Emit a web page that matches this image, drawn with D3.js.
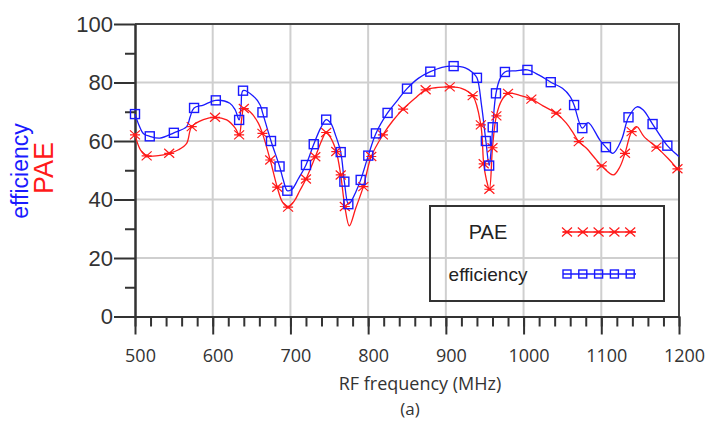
<!DOCTYPE html>
<html>
<head>
<meta charset="utf-8">
<script src="https://cdn.jsdelivr.net/npm/d3@7"></script>
<style>
  body { margin: 0; background: #fff; }
  svg { display: block; }
</style>
</head>
<body>
<div id="chart"></div>
<script>
// curve points (MHz, %)
const effFreq = [500, 505, 511, 519, 532, 550, 566.5, 571, 576, 588, 604, 622, 629, 634, 636.5, 639, 652, 661, 664,
  675, 686, 691, 696, 702, 710, 720, 730, 739, 746, 752, 758, 764.7, 769.4, 774.5, 778, 784, 790.4, 800.2, 810, 825,
  838, 850, 865, 880, 895, 910, 925, 934, 940, 946, 951.5, 955.7, 958, 960.3, 964.5, 970, 976, 990, 1005, 1020, 1035,
  1050, 1060, 1065, 1075.6, 1083, 1098, 1106, 1115, 1126, 1135, 1146, 1154, 1166, 1185, 1200];
const effVal = [69.2, 65.5, 62.5, 61.6, 61.0, 62.8, 64.9, 68.3, 71.3, 72.3, 73.9, 72.9, 70.6, 67.2, 72, 77.2, 75.4, 72.3, 69.8,
  60.0, 51.3, 46.5, 43.0, 43.5, 47, 51.8, 58.9, 64.5, 67.3, 66, 62, 56.2, 46.1, 38.4, 39.3, 42.5, 46.7, 55.0, 62.6, 69.6,
  74, 77.9, 81.5, 83.7, 85.2, 85.6, 85, 83.5, 81.6, 72, 60.0, 51.6, 56, 64.7, 76.3, 81.5, 83.6, 84, 84.3, 82.5, 80.1,
  78, 75.2, 72.3, 64.4, 66.3, 60.4, 57.9, 55.8, 60.4, 68.1, 71.7, 70.6, 65.8, 58.4, 54.7];
const effMarkIdx = [0, 3, 5, 8, 10, 13, 15, 18, 19, 20, 22, 25, 26, 28, 31, 32, 33, 36, 37, 38, 39, 41, 43, 45, 48,
  50, 51, 53, 54, 56, 58, 60, 63, 64, 67, 70, 73, 74];

const paeFreq = [500, 507, 515, 530, 544, 556, 566.5, 573, 588, 603, 618, 629, 634, 637.5, 640, 648, 658.7, 664,
  674, 683, 690, 697, 705, 712, 720, 732, 740, 746, 752, 759, 764.7, 770, 775.8, 784, 793.8, 804, 819, 832, 845, 860,
  874, 890, 905, 920, 934.5, 945, 948.7, 952, 956, 960, 965, 972, 980, 995, 1010, 1025, 1042, 1055, 1064, 1071, 1081,
  1090, 1100.5, 1115.5, 1124, 1130.5, 1139, 1145.6, 1155, 1171, 1186, 1198, 1200];
const paeVal = [62.1, 57, 54.9, 55, 55.8, 57, 59.2, 64.9, 67.3, 68.1, 67.2, 64.4, 62.1, 68, 71.1, 70, 66.1, 62.6,
  53.5, 44.2, 39, 37.4, 39.5, 43, 47.0, 54.6, 60, 62.9, 61, 56.4, 48.4, 37.6, 31.0, 37, 44.4, 54.7, 62.1, 67, 70.9, 74.5,
  77.5, 78.3, 78.5, 78, 75.5, 65.5, 52.2, 47, 43.5, 57.7, 68.6, 74, 76.3, 75.6, 74.3, 72, 69.5, 66.1, 62.7, 59.8, 57.5,
  54.7, 51.5, 48.4, 51.2, 55.8, 63.2, 64.9, 61.5, 57.9, 54, 50.5, 50];
const paeMarkIdx = [0, 2, 4, 7, 9, 12, 14, 17, 18, 19, 21, 24, 25, 27, 29, 30, 31, 34, 35, 36, 38, 40, 42, 44, 45,
  46, 48, 49, 50, 52, 54, 56, 59, 62, 65, 66, 69, 71];

const xTicks = [500, 600, 700, 800, 900, 1000, 1100, 1200];
const yTicks = [0, 20, 40, 60, 80, 100];
const seriesNames = ["PAE", "efficiency"];

const width = 725, height = 421;
const mLeft = 135, mRight = 679, mTop = 24, mBottom = 316.5;
const blue = "#1a1aff", red = "#ff1a1a", dark = "#333";

const svg = d3.select("#chart").append("svg")
  .attr("width", width)
  .attr("height", height);

const x = d3.scaleLinear().domain([500, 1200]).range([mLeft, mRight]);
const y = d3.scaleLinear().domain([0, 100]).range([mBottom, mTop]);

// grid
svg.append("g").selectAll("line")
  .data(xTicks.slice(1, -1))
  .enter().append("line")
  .attr("x1", d => x(d)).attr("x2", d => x(d))
  .attr("y1", mTop).attr("y2", mBottom)
  .attr("stroke", "#cfcfcf").attr("stroke-width", 2);
svg.append("g").selectAll("line")
  .data(yTicks.slice(1, -1))
  .enter().append("line")
  .attr("x1", mLeft).attr("x2", mRight)
  .attr("y1", d => y(d)).attr("y2", d => y(d))
  .attr("stroke", "#cfcfcf").attr("stroke-width", 2);

// frame top + right
svg.append("path")
  .attr("d", `M${mLeft},${mTop}H${mRight}V${mBottom}`)
  .attr("fill", "none").attr("stroke", "#444").attr("stroke-width", 2);

// x axis: minor then major
const xMinor = d3.range(500, 1201, 20);
svg.append("g")
  .attr("transform", `translate(0,${mBottom})`)
  .call(d3.axisBottom(x).tickValues(xMinor).tickSize(10).tickSizeOuter(0).tickFormat(""))
  .call(g => g.selectAll("line,path").attr("stroke", dark).attr("stroke-width", 2));
const xAxis = svg.append("g")
  .attr("transform", `translate(0,${mBottom})`)
  .call(d3.axisBottom(x).tickValues(xTicks).tickSize(18).tickSizeOuter(0).tickFormat(d3.format("d")))
  .call(g => g.selectAll("line,path").attr("stroke", dark).attr("stroke-width", 2));
xAxis.selectAll("text")
  .attr("y", 39).attr("dy", "0.36em").attr("dx", 5)
  .attr("fill", dark)
  .style("font-family", "'Open Sans', sans-serif")
  .style("font-size", "18px");

// y axis
const yMinor = d3.range(10, 100, 20);
svg.append("g")
  .attr("transform", `translate(${mLeft},0)`)
  .call(d3.axisLeft(y).tickValues(yMinor).tickSize(10).tickSizeOuter(0).tickFormat(""))
  .call(g => g.selectAll("line,path").attr("stroke", dark).attr("stroke-width", 2));
const yAxis = svg.append("g")
  .attr("transform", `translate(${mLeft},0)`)
  .call(d3.axisLeft(y).tickValues(yTicks).tickSize(21).tickSizeOuter(0).tickPadding(1))
  .call(g => g.selectAll("line,path").attr("stroke", dark).attr("stroke-width", 2));
yAxis.selectAll("text")
  .attr("fill", dark)
  .style("font-family", "'Liberation Sans', Arial, sans-serif")
  .style("font-size", "22px");

// axis titles
svg.append("text")
  .attr("transform", "translate(28,171) rotate(-90)")
  .attr("text-anchor", "middle")
  .attr("fill", blue)
  .style("font-family", "'Liberation Sans', Arial, sans-serif")
  .style("font-size", "23px")
  .text("efficiency");
svg.append("text")
  .attr("transform", "translate(53,168) rotate(-90)")
  .attr("text-anchor", "middle")
  .attr("fill", red)
  .style("font-family", "'Liberation Sans', Arial, sans-serif")
  .style("font-size", "27px")
  .text("PAE");
svg.append("text")
  .attr("x", 420).attr("y", 384).attr("dy", "0.35em")
  .attr("text-anchor", "middle").attr("fill", dark)
  .style("font-family", "'Open Sans', sans-serif")
  .style("font-size", "18px")
  .text("RF frequency (MHz)");
svg.append("text")
  .attr("x", 410).attr("y", 409).attr("dy", "0.35em")
  .attr("text-anchor", "middle").attr("fill", dark)
  .style("font-family", "'Open Sans', sans-serif")
  .style("font-size", "17px")
  .text("(a)");

// lines
const line = d3.line()
  .x(d => x(d[0]))
  .y(d => y(d[1]))
  .curve(d3.curveCatmullRom.alpha(0.5));

const paePts = paeFreq.map((f, i) => [f, paeVal[i]]);
const effPts = effFreq.map((f, i) => [f, effVal[i]]);

svg.append("path")
  .attr("d", line(paePts))
  .attr("fill", "none").attr("stroke", red).attr("stroke-width", 1.3);
svg.append("path")
  .attr("d", line(effPts))
  .attr("fill", "none").attr("stroke", blue).attr("stroke-width", 1.3);

const starPath = "M-5,-4.5L5,4.5M-5,4.5L5,-4.5M-5,0L5,0";

function drawStar(g, cx, cy) {
  g.append("path")
    .attr("transform", `translate(${cx},${cy})`)
    .attr("d", starPath)
    .attr("stroke", red).attr("stroke-width", 1.2).attr("fill", "none");
  g.append("circle")
    .attr("cx", cx).attr("cy", cy).attr("r", 1.6)
    .attr("fill", red);
}
function drawSquare(g, cx, cy, s) {
  g.append("rect")
    .attr("x", cx - s / 2).attr("y", cy - s / 2)
    .attr("width", s).attr("height", s)
    .attr("fill", "none").attr("stroke", blue).attr("stroke-width", 1.4);
}

const marks = svg.append("g");
paeMarkIdx.forEach(i => drawStar(marks, x(paeFreq[i]), y(paeVal[i])));
effMarkIdx.forEach(i => drawSquare(marks, x(effFreq[i]), y(effVal[i]), 9));

// legend
const legend = svg.append("g");
legend.append("rect")
  .attr("x", 430).attr("y", 206)
  .attr("width", 234).attr("height", 95)
  .attr("fill", "none").attr("stroke", dark).attr("stroke-width", 2);

const legY = [232, 274];
legend.selectAll("text")
  .data(seriesNames)
  .enter().append("text")
  .attr("x", 488)
  .attr("y", (d, i) => legY[i])
  .attr("dy", "0.35em")
  .attr("text-anchor", "middle")
  .attr("fill", "#222")
  .style("font-family", "'Liberation Sans', Arial, sans-serif")
  .style("font-size", (d, i) => i == 0 ? "20px" : "19px")
  .text(d => d);

legY.forEach((ly, i) => {
  legend.append("line")
    .attr("x1", 563).attr("x2", 636)
    .attr("y1", ly).attr("y2", ly)
    .attr("stroke", i == 0 ? red : blue).attr("stroke-width", 1.3);
  for (let k = 0; k < 5; k++) {
    const cx = 567 + k * 15.8;
    if (i == 0) drawStar(legend, cx, ly);
    else drawSquare(legend, cx, ly, 8);
  }
});
</script>
</body>
</html>
